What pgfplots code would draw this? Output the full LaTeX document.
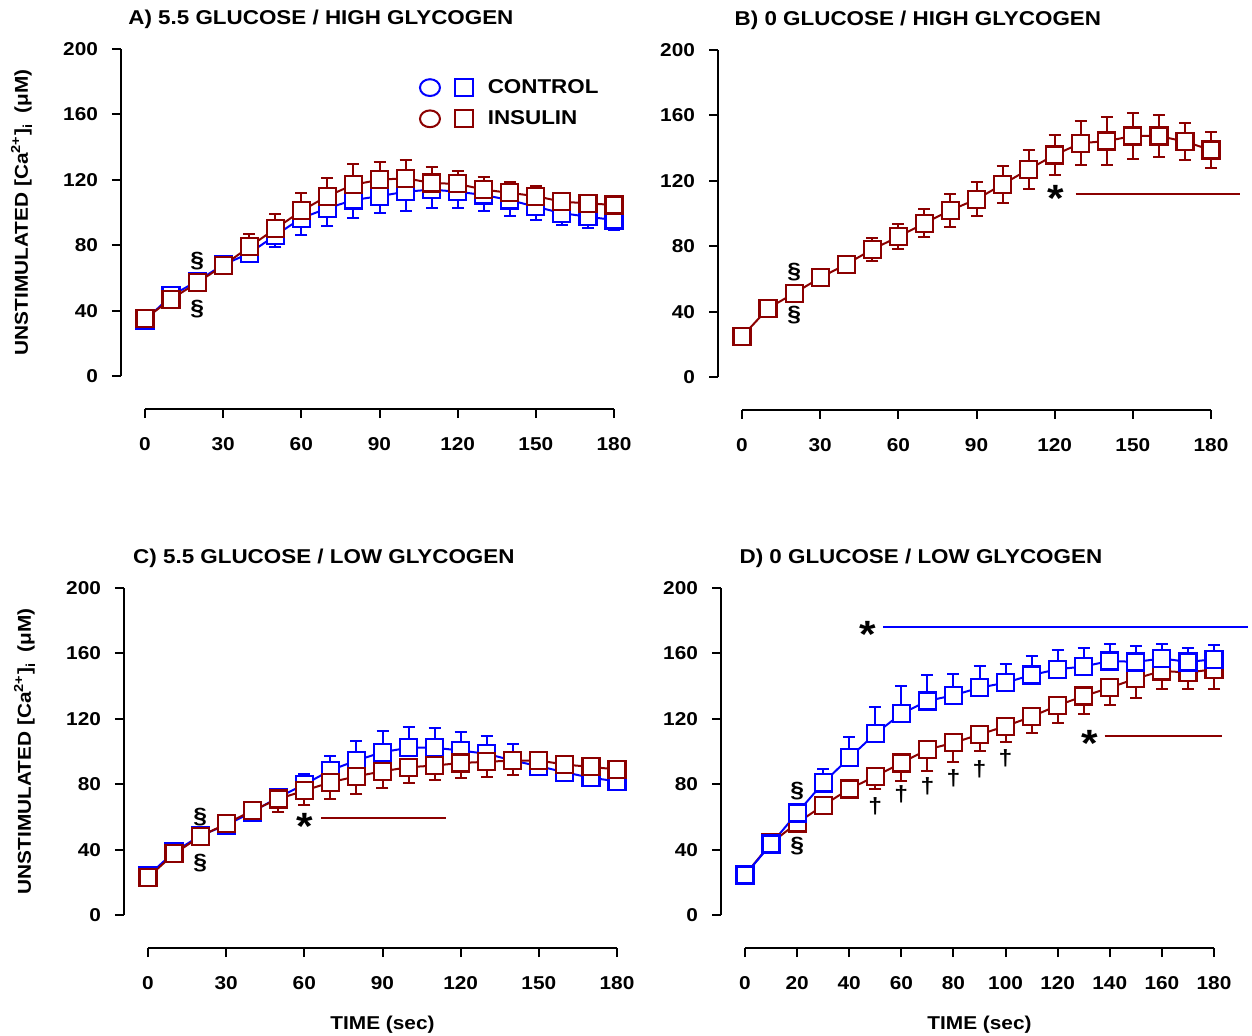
\documentclass[border=0pt]{standalone}
\usepackage{fontspec}
\setmainfont{Liberation Sans}[FakeStretch=1.12]
\usepackage{pgfplots}
\usepackage{pgfplotstable}
\pgfplotsset{compat=1.18}
\definecolor{cblue}{RGB}{0,0,255}
\definecolor{cred}{RGB}{139,0,0}

% columns: t = time (sec), m = mean, e = error
\pgfplotstableread[row sep=\\]{
t m e\\
0 34 1\\ 10 49 1.5\\ 20 58 1.5\\ 30 68 3\\ 40 75 4.5\\ 50 86 7\\ 60 96.5 10\\ 70 102.6 10.6\\ 80 107.6 11\\ 90 110 10.4\\
100 112.7 11.7\\ 110 114 11\\ 120 112.7 10\\ 130 110.7 10\\ 140 107.6 9.6\\ 150 103.5 8\\ 160 99.6 7\\ 170 97.4 6.7\\ 180 95.4 6\\
}\Actrl
\pgfplotstableread[row sep=\\]{
t m e\\
0 35 1\\ 10 47 1.5\\ 20 57 1.5\\ 30 67.5 3\\ 40 79 8\\ 50 90 9\\ 60 101 11\\ 70 110 11\\ 80 117 12.7\\ 90 120 10.7\\
100 121 11\\ 110 118 10\\ 120 117.5 8\\ 130 114 8\\ 140 112 6.4\\ 150 110 6\\ 160 106.6 5\\ 170 105.6 5\\ 180 104.6 4\\
}\Ains
\pgfplotstableread[row sep=\\]{
t m e\\
0 24.7 0.5\\ 10 42 1\\ 20 51.2 1\\ 30 60.7 2\\ 40 69 4.5\\ 50 78 6.8\\ 60 85.8 7.8\\ 70 94 8.6\\ 80 102 10\\ 90 108.7 10.3\\
100 117.8 11.2\\ 110 127 11.8\\ 120 135.8 12.2\\ 130 143 13.6\\ 140 144.3 14.5\\ 150 147.4 14\\ 160 147.4 12.8\\ 170 144 11.5\\ 180 138.8 11\\
}\Bins
\pgfplotstableread[row sep=\\]{
t m e\\
0 24 0.5\\ 10 38.5 1\\ 20 48.5 1\\ 30 55 1.5\\ 40 63 1.5\\ 50 72 3.6\\ 60 79.8 6.7\\ 70 88.5 8.5\\ 80 94.5 11.8\\ 90 99.6 13\\
100 102.3 12.7\\ 110 102.3 12.2\\ 120 100.6 11.2\\ 130 98.6 10.8\\ 140 94.5 9.8\\ 150 91 8.6\\ 160 87.3 3\\ 170 83.9 2\\ 180 81.8 2\\
}\Cctrl
\pgfplotstableread[row sep=\\]{
t m e\\
0 23 0.5\\ 10 37.4 1\\ 20 48 1\\ 30 55.8 1.5\\ 40 63.8 2\\ 50 71 8\\ 60 76 9\\ 70 81.2 10\\ 80 84.8 11\\ 90 87.9 10\\
100 90.4 9.6\\ 110 91.4 9\\ 120 93 9\\ 130 93.7 9\\ 140 94.5 9\\ 150 94.5 8.5\\ 160 92 8\\ 170 90.6 7.8\\ 180 89 8\\
}\Cins
\pgfplotstableread[row sep=\\]{
t m e\\
0 24.5 0.5\\ 10 43.4 1\\ 20 62.4 2\\ 30 80.8 8.6\\ 40 96.1 12.7\\ 50 110.9 16.5\\ 60 123.1 17\\ 70 130.9 16\\ 80 134.4 12.8\\ 90 139 13\\
100 142.1 11.7\\ 110 146.8 11.7\\ 120 150.3 11.7\\ 130 152 11.6\\ 140 155.4 10.6\\ 150 154.8 9.8\\ 160 156.9 9\\ 170 154.8 8.8\\ 180 156.4 8.6\\
}\Dctrl
\pgfplotstableread[row sep=\\]{
t m e\\
0 24.5 0.5\\ 10 44 1\\ 20 56.3 1\\ 30 67 1\\ 40 77.1 1.5\\ 50 84.8 7.7\\ 60 93 11.2\\ 70 101.2 13.3\\ 80 105.3 11.9\\ 90 110.4 10.2\\
100 115.5 9.8\\ 110 121.3 9.8\\ 120 128.2 10.6\\ 130 133.9 11.2\\ 140 139 10.8\\ 150 144.6 11.7\\ 160 149.3 11.3\\ 170 148.3 10.3\\ 180 150.3 12.3\\
}\Dins

\newcommand\lblfont{\fontsize{9.3}{11}\selectfont\bfseries}
\newcommand\ttlfont{\fontsize{10}{12}\selectfont\bfseries}

\tikzset{
  ast/.style={font=\fontsize{19}{19}\selectfont\bfseries, anchor=base, yshift=-9.5pt, inner sep=0pt},
  sym/.style={font=\fontsize{11}{12}\selectfont\bfseries, inner sep=0pt},
}

\pgfplotsset{
  panel/.style={
    scale only axis, width=234.5pt, height=163.5pt,
    xmin=0, xmax=180, ymin=0, ymax=200,
    axis lines*=left,
    axis x line shift=16.5pt, axis y line shift=12pt,
    axis line style={line width=1pt},
    tick align=outside, major tick length=4.5pt,
    tick style={line width=1pt, black},
    ytick={0,40,...,200},
    xtick={0,30,...,180},
    /pgf/number format/assume math mode=true,
    tick label style={font=\lblfont},
    xticklabel style={yshift=-6pt},
    yticklabel style={xshift=-3.5pt},
    clip=false,
    title style={at={(axis description cs:0.375,1.055)}, anchor=center, font=\ttlfont},
    label style={font=\lblfont},
    ylabel style={at={(axis description cs:-0.263,0.5)}, anchor=center},
    xlabel style={at={(axis description cs:0.5,-0.335)}, anchor=center},
  },
  ser/.style={line width=1pt, mark=square*, mark size=4.25pt,
    mark options={fill=white, line width=1.1pt, solid},
    error bars/error bar style={line width=1pt},
    error bars/error mark options={line width=1pt, mark size=3pt, rotate=90}},
  ctrl/.style={ser, cblue},
  ins/.style={ser, cred},
}

\begin{document}
\begin{tikzpicture}

% ---------------- A ----------------
\begin{axis}[panel, at={(72.5pt,329.5pt)}, anchor=south west,
  title={A) 5.5 GLUCOSE / HIGH GLYCOGEN},
  ylabel={UNSTIMULATED [Ca\textsuperscript{2+}]\raisebox{-0.45ex}{\fontsize{6.5}{7}\selectfont i}\hspace{0.6em}(μM)},
  legend style={at={(axis cs:105,182.5)}, anchor=north west, draw=none, fill=none,
    font=\fontsize{10}{12}\selectfont\bfseries, row sep=6pt, inner sep=0pt,
    nodes={inner sep=0pt}, column sep=7pt},
  legend cell align=left]
\addlegendimage{cblue, line width=1pt, legend image code/.code={
  \draw[cblue, line width=1pt] (5pt,0pt) ellipse [x radius=5pt, y radius=4.2pt];
  \draw[cblue, line width=1pt] (17.6pt,-4.3pt) rectangle (26.4pt,4.3pt);}}
\addlegendentry{CONTROL}
\addlegendimage{cred, line width=1pt, legend image code/.code={
  \draw[cred, line width=1pt] (5pt,0pt) ellipse [x radius=5pt, y radius=4.2pt];
  \draw[cred, line width=1pt] (17.6pt,-4.3pt) rectangle (26.4pt,4.3pt);}}
\addlegendentry{INSULIN}
\addplot[ctrl, forget plot, error bars/.cd, y dir=minus, y explicit] table[x=t, y=m, y error=e] {\Actrl};
\addplot[ins, forget plot, error bars/.cd, y dir=plus, y explicit] table[x=t, y=m, y error=e] {\Ains};
\node[sym] at (axis cs:20,70) {§};
\node[sym] at (axis cs:20,41) {§};
\end{axis}

% ---------------- B ----------------
\begin{axis}[panel, at={(371pt,329pt)}, anchor=south west,
  title={B) 0 GLUCOSE / HIGH GLYCOGEN}]
\addplot[ins, error bars/.cd, y dir=both, y explicit] table[x=t, y=m, y error=e] {\Bins};
\node[sym] at (axis cs:20,64) {§};
\node[sym] at (axis cs:20,38) {§};
\node[ast] at (axis cs:120.5,113) {*};
\draw[cred, line width=1pt] (axis cs:128,112) -- (axis cs:191,112);
\end{axis}

% ---------------- C ----------------
\begin{axis}[panel, at={(74pt,60pt)}, anchor=south west,
  title={C) 5.5 GLUCOSE / LOW GLYCOGEN},
  xlabel={TIME (sec)},
  ylabel={UNSTIMULATED [Ca\textsuperscript{2+}]\raisebox{-0.45ex}{\fontsize{6.5}{7}\selectfont i}\hspace{0.6em}(μM)}]
\addplot[ctrl, error bars/.cd, y dir=plus, y explicit] table[x=t, y=m, y error=e] {\Cctrl};
\addplot[ins, error bars/.cd, y dir=minus, y explicit] table[x=t, y=m, y error=e] {\Cins};
\node[sym] at (axis cs:20,60) {§};
\node[sym] at (axis cs:20,32) {§};
\node[ast] at (axis cs:60,58) {*};
\draw[cred, line width=1pt] (axis cs:66.5,59.3) -- (axis cs:114.5,59.3);
\end{axis}

% ---------------- D ----------------
\begin{axis}[panel, at={(372.5pt,60pt)}, anchor=south west,
  title={D) 0 GLUCOSE / LOW GLYCOGEN},
  xtick={0,20,...,180},
  xlabel={TIME (sec)}]
\addplot[ins, error bars/.cd, y dir=minus, y explicit] table[x=t, y=m, y error=e] {\Dins};
\addplot[ctrl, error bars/.cd, y dir=plus, y explicit] table[x=t, y=m, y error=e] {\Dctrl};
\node[sym] at (axis cs:20,75.6) {§};
\node[sym] at (axis cs:20,42) {§};
\node[sym] at (axis cs:50,66.4) {†};
\node[sym] at (axis cs:60,73.6) {†};
\node[sym] at (axis cs:70,78.7) {†};
\node[sym] at (axis cs:80,83.9) {†};
\node[sym] at (axis cs:90,89.4) {†};
\node[sym] at (axis cs:100,96.1) {†};
\node[ast] at (axis cs:47,175.5) {*};
\draw[cblue, line width=1pt] (axis cs:53,175.9) -- (axis cs:193,175.9);
\node[ast] at (axis cs:132.5,108.4) {*};
\draw[cred, line width=1pt] (axis cs:138,109.4) -- (axis cs:183,109.4);
\end{axis}

\pgfresetboundingbox
\path[use as bounding box] (0,0) rectangle (626pt,517.5pt);
\end{tikzpicture}
\end{document}
